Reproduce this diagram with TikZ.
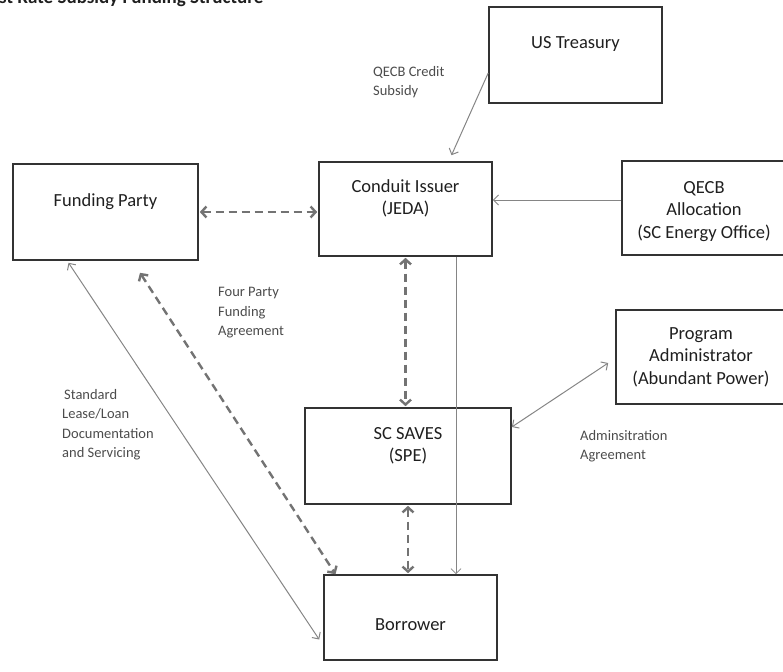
\documentclass[tikz,border=0pt]{standalone}
\usepackage{fontspec}
\setmainfont{Carlito}
\usetikzlibrary{arrows.meta}
\definecolor{boxline}{gray}{0.2}
\definecolor{arrgray}{gray}{0.52}
\definecolor{dashgray}{gray}{0.45}
\definecolor{labgray}{gray}{0.3}
\definecolor{txt}{gray}{0.12}
\begin{document}
\begin{tikzpicture}[x=1pt,y=-1pt,
  box/.style={draw=boxline,line width=1.6pt,inner sep=0pt,fill=none},
  btext/.style={font=\fontsize{18.5}{22.5}\selectfont,text=txt,align=center,inner sep=0pt},
  lab/.style={font=\fontsize{14.5}{19.5}\selectfont,text=labgray,align=left,anchor=north west,inner sep=0pt},
  solidarr/.style={draw=arrgray,line width=1pt,-{Straight Barb[length=5pt,width=10pt]}},
  bothsolid/.style={draw=arrgray,line width=1pt,{Straight Barb[length=5pt,width=10pt]}-{Straight Barb[length=5pt,width=10pt]}},
  thinarr/.style={draw=arrgray,line width=0.8pt,-{Straight Barb[length=5pt,width=10pt]}},
  dasharr/.style={draw=dashgray,line width=2.4pt,dash pattern=on 8pt off 5pt,{Straight Barb[length=5pt,width=11pt]}-{Straight Barb[length=5pt,width=11pt]}}]
\useasboundingbox (0,0) rectangle (783,671);

% title (cut off at the top edge)
\node[anchor=base west,inner sep=0pt,font=\bfseries\fontsize{19}{22}\selectfont,text=txt] (title) at (-1,4) {st Rate Subsidy Funding Structure};

% boxes
\node[box,minimum width=173pt,minimum height=96pt] (ut) at (575.5,55) {};
\node[btext] (utt) at ([yshift=-38pt]ut.north) {US Treasury};

\node[box,minimum width=173pt,minimum height=94pt] (ci) at (405.5,209) {};
\node[btext] (cit) at ([yshift=-37pt]ci.north) {Conduit Issuer\\(JEDA)};

\node[box,minimum width=185pt,minimum height=96pt] (fp) at (105.5,212) {};
\node[btext] (fpt) at ([yshift=-38pt]fp.north) {Funding Party};

\node[box,minimum width=164pt,minimum height=94pt] (qa) at (704,208) {};
\node[btext] (qat) at ([yshift=-51pt]qa.north) {QECB\\Allocation\\(SC Energy Office)};

\node[box,minimum width=170pt,minimum height=94pt] (pa) at (701,357) {};
\node[btext] (pat) at ([yshift=-48pt]pa.north) {Program\\Administrator\\(Abundant Power)};

\node[box,minimum width=206pt,minimum height=96pt] (spe) at (408,456) {};
\node[btext] (spet) at ([yshift=-38.5pt]spe.north) {SC SAVES\\(SPE)};

\node[box,minimum width=173pt,minimum height=85pt] (bo) at (410.5,617.5) {};
\node[btext] (bot) at ([yshift=-50pt]bo.north) {Borrower};

% labels
\node[lab] (l1) at (373,66) {QECB Credit\\Subsidy};
\node[lab] (l2) at (218,287) {Four Party\\Funding\\Agreement};
\node[lab] (l3) at (62,389) {\hspace{2pt}Standard\\Lease/Loan\\Documentation\\and Servicing};
\node[lab] (l4) at (580,430) {Adminsitration\\Agreement};

% connectors
\draw[solidarr] ([yshift=-18pt]ut.west) -- ([xshift=46pt,yshift=6pt]ci.north);
\draw[dasharr,shorten <=1pt,shorten >=1pt] (fp.east) -- (fp.east -| ci.west);
\draw[solidarr] ([yshift=8pt]qa.west) -- ([yshift=8pt]qa.west -| ci.east);
\draw[dasharr,shorten <=1pt,shorten >=1pt] (ci.south) -- (ci.south |- spe.north);
\draw[thinarr] ([xshift=50.5pt]ci.south) -- ([xshift=50.5pt]ci.south |- bo.north);
\draw[dasharr,shorten <=1pt,shorten >=1pt] (spe.south) -- (spe.south |- bo.north);
\draw[bothsolid] ([yshift=29pt]spe.east) -- ([xshift=-7pt,yshift=-6pt]pa.west);
\draw[bothsolid] ([xshift=-37pt,yshift=-2pt]fp.south) -- ([xshift=-4pt,yshift=-22pt]bo.west);
\draw[dasharr] ([xshift=34.5pt,yshift=-12pt]fp.south) -- ([xshift=-75pt]bo.north);
\end{tikzpicture}
\end{document}
